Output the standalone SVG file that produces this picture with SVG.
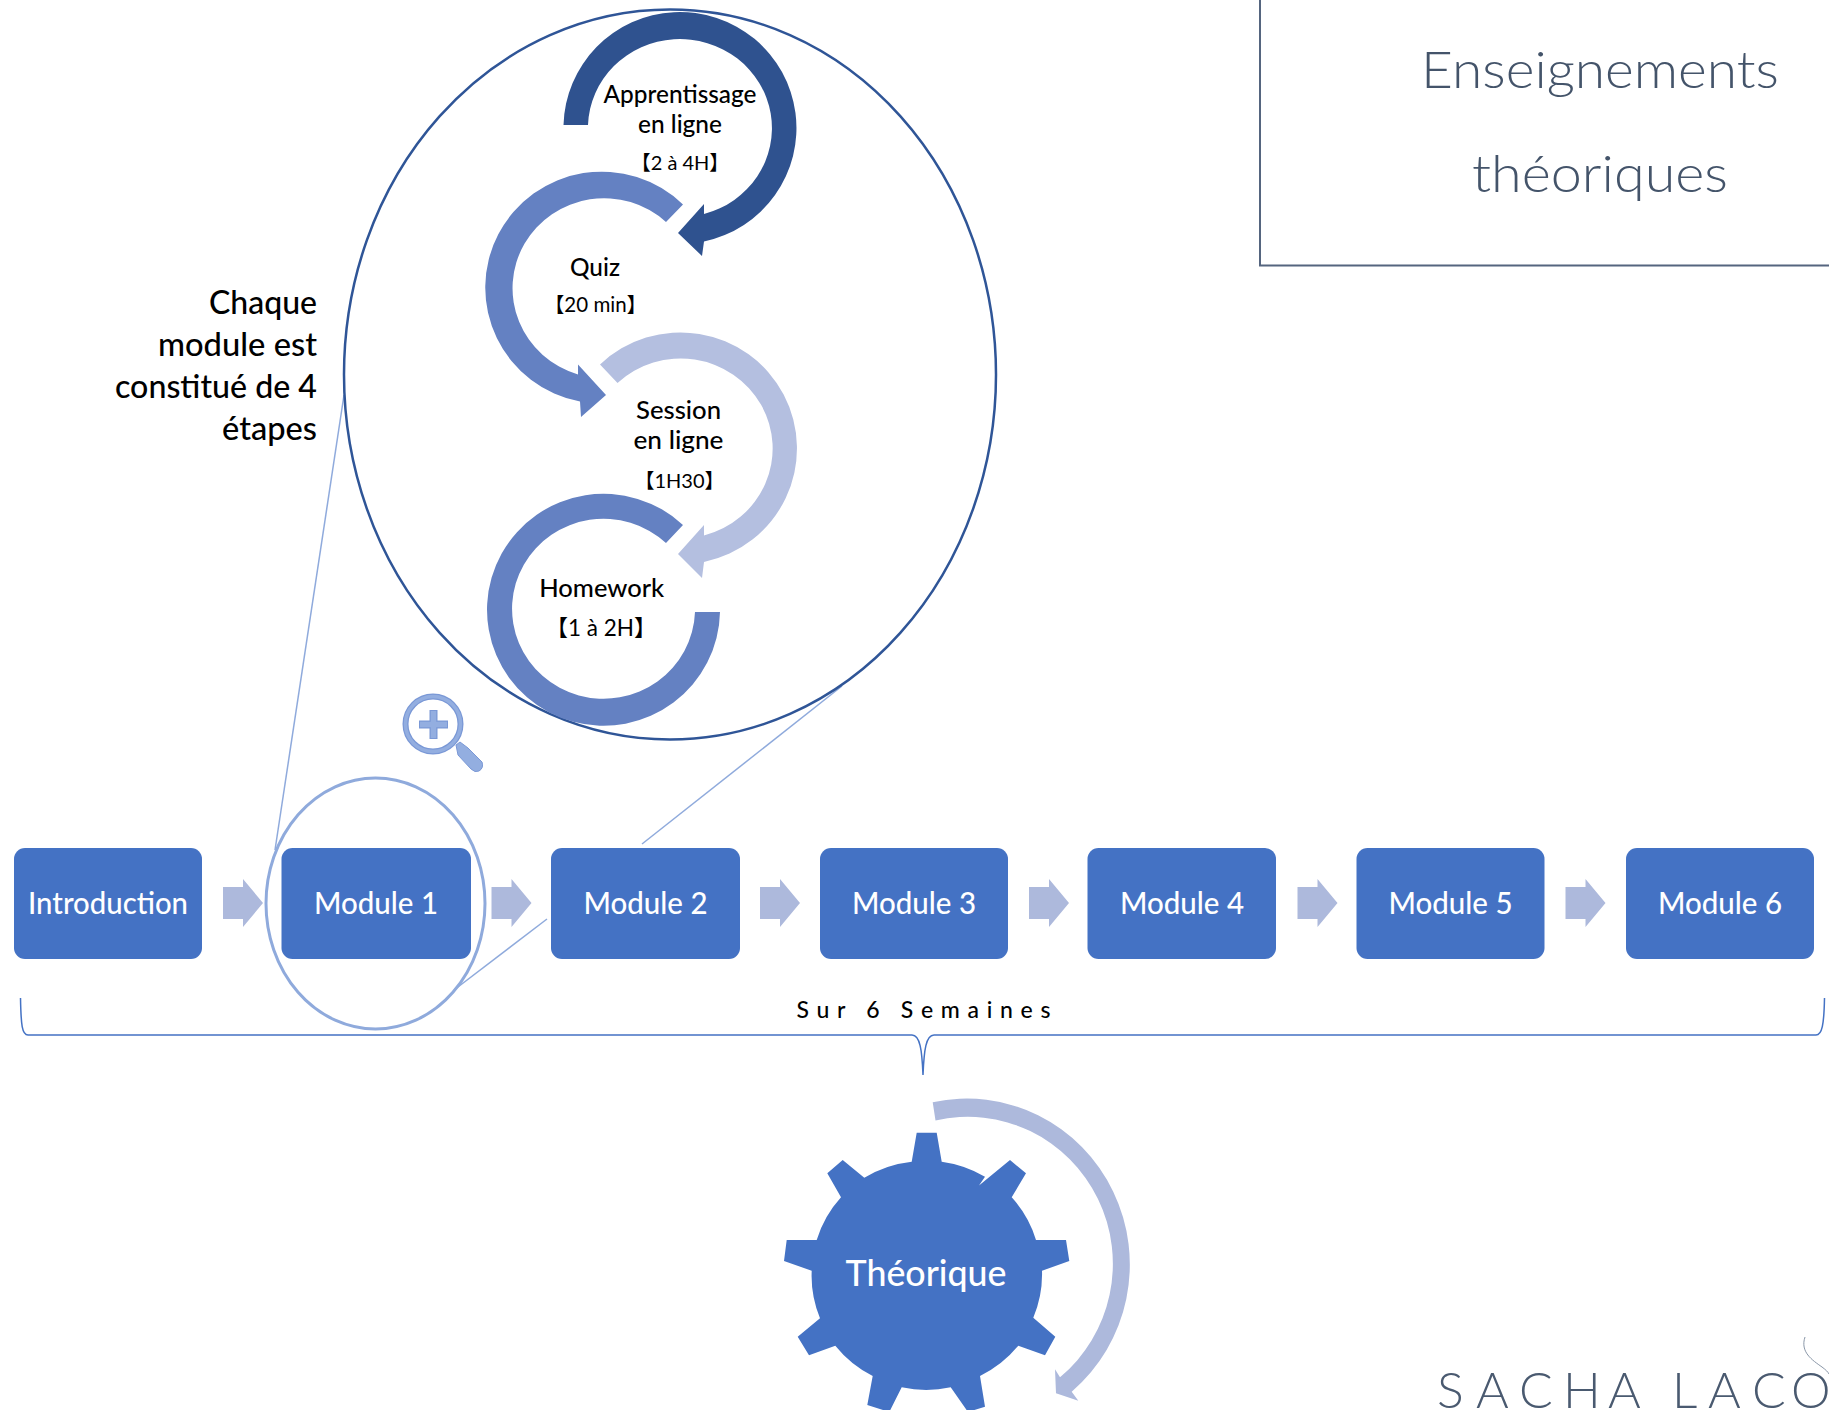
<svg xmlns="http://www.w3.org/2000/svg" width="1829" height="1410" viewBox="0 0 1829 1410">
<style>
text{font-family:"Lato","Noto Sans CJK SC",sans-serif;}
.box{fill:#4472c4;}
.bl{fill:#fff;font-size:30px;text-anchor:middle;font-weight:500;}
.step{fill:#000;font-size:24px;text-anchor:middle;font-weight:500;}
.time{fill:#000;text-anchor:middle;}
.side{fill:#000;font-size:32px;text-anchor:end;font-weight:500;}
.title{fill:#44546a;font-size:52px;text-anchor:middle;font-weight:300;}
.thin{fill:none;stroke:#8faadc;stroke-width:1.5;}
.chev{fill:#adb9dc;}
</style>
<defs>
<path id="chev" d="M0,-16 H20 V-24 L40,0 L20,24 V16 H0 Z"/>
</defs>
<rect width="1829" height="1410" fill="#fff"/>

<g id="title-frame">
<path d="M1260,0 V265.500 H1829" fill="none" stroke="#55657f" stroke-width="2"/>
<text class="title" x="1600" y="88" textLength="358" lengthAdjust="spacingAndGlyphs">Enseignements</text>
<text class="title" x="1600" y="192" textLength="256" lengthAdjust="spacingAndGlyphs">théoriques</text>
</g>

<g id="connectors">
<line class="thin" x1="344" y1="395" x2="275" y2="850"/>
<line class="thin" x1="642" y1="844" x2="842" y2="686"/>
<line class="thin" x1="547" y1="919" x2="454" y2="990"/>
<use href="#chev" class="chev" x="223" y="903"/>
<use href="#chev" class="chev" x="491.500" y="903"/>
<use href="#chev" class="chev" x="760" y="903"/>
<use href="#chev" class="chev" x="1029" y="903"/>
<use href="#chev" class="chev" x="1297.500" y="903"/>
<use href="#chev" class="chev" x="1565.500" y="903"/>
<path id="brace" d="M20.500,998 C21,1025 22,1035 28,1035 L912,1035 C920,1035 922,1050 923,1075 C924,1050 926,1035 934,1035 L1816,1035 C1822,1035 1824,1025 1824.500,998" fill="none" stroke="#4472c4" stroke-width="1.500"/>
</g>

<g id="zoom-circle">
<ellipse cx="670" cy="374.500" rx="326" ry="365" fill="#fff" stroke="#2f5597" stroke-width="2.500"/>
</g>

<g id="step-apprentissage">
<path fill="#2f528f" d="M563.500,125 A116.500,116 0 1 1 704,241.500 L702,256 L678,233 L704,204 L704,214 A92,89 0 1 0 588,125 Z"/>
<text class="step" x="680" y="103" textLength="153" lengthAdjust="spacingAndGlyphs">Apprentissage</text>
<text class="step" x="680" y="133" textLength="84" lengthAdjust="spacingAndGlyphs">en ligne</text>
<text class="time" x="680" y="169.500" style="font-size:20px">【2 à 4H】</text>
</g>
<g id="step-quiz">
<path fill="#6481c2" d="M683,204.500 A116.500,116 0 1 0 580,401.600 L581,417 L606,395 L578,364.500 L578,374.500 A91.500,90 0 1 1 666,222 Z"/>
<text class="step" x="595" y="275.500" textLength="50" lengthAdjust="spacingAndGlyphs">Quiz</text>
<text class="time" x="595.500" y="311.800" style="font-size:20.500px">【20 min】</text>
</g>
<g id="step-session">
<path fill="#b4bfe0" d="M600,364.500 A116.500,116 0 1 1 704,562 L702,578 L678,554 L704,525 L704,535.500 A92,90 0 1 0 617.500,383 Z"/>
<text class="step" x="678.500" y="418.500" textLength="85" lengthAdjust="spacingAndGlyphs">Session</text>
<text class="step" x="678.500" y="448.500" textLength="90" lengthAdjust="spacingAndGlyphs">en ligne</text>
<text class="time" x="679.500" y="487.500" style="font-size:20px">【1H30】</text>
</g>
<g id="step-homework">
<path fill="#6481c2" d="M683,525 A116.500,116 0 1 0 720,612 L695,612 A91.500,90 0 1 1 666,543 Z"/>
<text class="step" x="601.700" y="597" textLength="125" lengthAdjust="spacingAndGlyphs">Homework</text>
<text class="time" x="601" y="636" style="font-size:22.500px">【1 à 2H】</text>
</g>

<g id="side-note">
<text class="side" x="317" y="314" textLength="108" lengthAdjust="spacingAndGlyphs">Chaque</text>
<text class="side" x="317" y="356" textLength="159" lengthAdjust="spacingAndGlyphs">module est</text>
<text class="side" x="317" y="398" textLength="202" lengthAdjust="spacingAndGlyphs">constitué de 4</text>
<text class="side" x="317" y="440" textLength="95" lengthAdjust="spacingAndGlyphs">étapes</text>
</g>

<g id="magnifier">
<path d="M456,745 L460,742 L468,748 L482,762 Q484,768 479,771 Q475,773 471,769 L458,755 Z" fill="#93aee0" stroke="#7a98d6" stroke-width="1"/>
<circle cx="433" cy="724" r="27.500" fill="#fff" stroke="#7a98d6" stroke-width="6"/>
<circle cx="433" cy="724" r="27.500" fill="none" stroke="#93aee0" stroke-width="3.500"/>
<path d="M419,724.500 H448 M433.500,710 V739" stroke="#7a98d6" stroke-width="8" fill="none"/>
<path d="M420,724.500 H447 M433.500,711 V738" stroke="#93aee0" stroke-width="5.500" fill="none"/>
</g>

<g id="introduction"><rect class="box" x="14" y="848" width="188" height="111" rx="11"/><text class="bl" x="108" y="914" textLength="160" lengthAdjust="spacingAndGlyphs">Introduction</text></g>
<g id="module-1"><rect class="box" x="281.500" y="848" width="189.500" height="111" rx="11"/><text class="bl" x="376" y="914" textLength="124" lengthAdjust="spacingAndGlyphs">Module 1</text></g>
<g id="module-2"><rect class="box" x="551" y="848" width="189" height="111" rx="11"/><text class="bl" x="645.500" y="914" textLength="124" lengthAdjust="spacingAndGlyphs">Module 2</text></g>
<g id="module-3"><rect class="box" x="820" y="848" width="188" height="111" rx="11"/><text class="bl" x="914" y="914" textLength="124" lengthAdjust="spacingAndGlyphs">Module 3</text></g>
<g id="module-4"><rect class="box" x="1087.500" y="848" width="188.500" height="111" rx="11"/><text class="bl" x="1182" y="914" textLength="124" lengthAdjust="spacingAndGlyphs">Module 4</text></g>
<g id="module-5"><rect class="box" x="1356.500" y="848" width="188" height="111" rx="11"/><text class="bl" x="1450.500" y="914" textLength="124" lengthAdjust="spacingAndGlyphs">Module 5</text></g>
<g id="module-6"><rect class="box" x="1626" y="848" width="188" height="111" rx="11"/><text class="bl" x="1720" y="914" textLength="124" lengthAdjust="spacingAndGlyphs">Module 6</text></g>

<g id="module-circle">
<ellipse cx="375.500" cy="903.500" rx="109.500" ry="125.500" fill="none" stroke="#8faadc" stroke-width="3"/>
</g>

<g id="duration">
<text x="923.500" y="1018" textLength="254" style="font-size:23px;font-weight:500;text-anchor:middle;fill:#000">Sur 6 Semaines</text>
</g>

<g id="theorique">
<path fill="#adb9dc" d="M932.700,1102.300 A163,166 0 0 1 1071.700,1391.700 L1078.300,1400.700 L1056,1393.300 L1055,1369.300 L1060,1377.300 A145,147 0 0 0 935.500,1120.500 Z"/>
<path fill="#4472c4" d="M911.700,1161.700 L916.700,1132.700 L936.700,1132.700 L941.700,1161.700 A115,113 0 0 1 985,1176.700 L979,1185.500 L1010,1160 L1026,1173.300 L1011.700,1197.300 A115,113 0 0 1 1036,1240 L1066,1240 L1069.300,1261 L1042,1270.700 A115,113 0 0 1 1033.300,1317.700 L1055.300,1336.700 L1045,1355.300 L1018.300,1345.700 A115,113 0 0 1 980,1376 L985,1406.700 L968,1412 L950.700,1387.300 A115,113 0 0 1 901.700,1387.300 L889.300,1412 L867.300,1405 L872.700,1376 A115,113 0 0 1 835.300,1345.700 L809,1355.300 L797.700,1336.700 L820,1318.300 A115,113 0 0 1 811.700,1270.700 L784,1261 L786.700,1240 L816.700,1240 A115,113 0 0 1 841,1197.300 L827.300,1173.300 L842.700,1160 L864.300,1177.700 A115,113 0 0 1 911.700,1161.700 Z"/>
<text x="926" y="1286" textLength="161" lengthAdjust="spacingAndGlyphs" style="font-size:36px;fill:#fff;text-anchor:middle;font-weight:500">Théorique</text>
</g>

<g id="logo">
<text y="1408" x="1437 1476 1519 1563 1608 1650 1672 1708 1752 1791" style="font-size:50px;fill:#4a5a70;font-weight:300">SACHA LACO</text>
<path d="M1805,1337 C1800,1352 1812,1360 1822,1367 C1826,1370 1828,1372 1829,1374" fill="none" stroke="#8a97a8" stroke-width="1"/>
</g>
</svg>
